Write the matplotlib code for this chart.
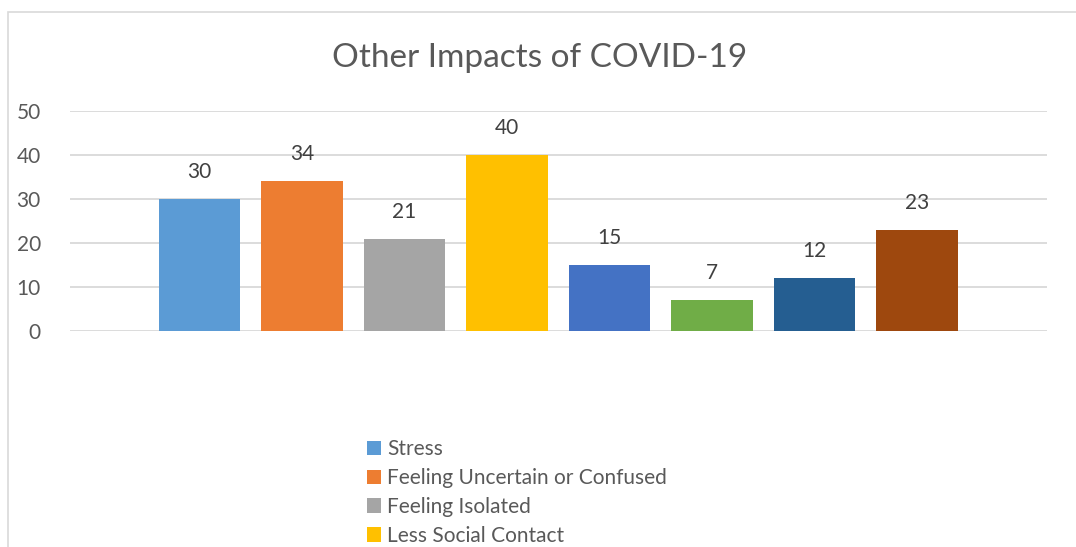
import matplotlib.pyplot as plt
from matplotlib.patches import Rectangle

# values
series_labels = ["Stress", "Feeling Uncertain or Confused", "Feeling Isolated", "Less Social Contact"]
values = [30, 34, 21, 40, 15, 7, 12, 23]
colors = ["#5B9BD5", "#ED7D31", "#A5A5A5", "#FFC000",
          "#4472C4", "#70AD47", "#255E91", "#9E480E"]
y_ticks = [0, 10, 20, 30, 40, 50]

text_color = "#595959"
grid_color = "#D9D9D9"
plt.rcParams['font.family'] = ['Lato', 'DejaVu Sans']

fig = plt.figure(figsize=(10.76, 5.47), dpi=100)

# chart area border (runs past the right and bottom edge of the crop)
fig.patches.append(Rectangle((8 / 1076, -0.2), 1.2, 1.2 - 12 / 547,
                             transform=fig.transFigure, fill=False,
                             edgecolor=grid_color, linewidth=1.2))

ax = fig.add_axes([70 / 1076, 1 - 331 / 547, 977 / 1076, 220 / 547])

positions = list(range(len(values)))
bars = ax.bar(positions, values, width=0.795, color=colors, zorder=3)

for rect, v in zip(bars, values):
    ax.annotate(str(v), (rect.get_x() + rect.get_width() / 2, v),
                xytext=(0, 27), textcoords='offset pixels',
                ha='center', va='center', fontsize=15, color="#404040")

ax.set_xlim(-1.265, 8.27)
ax.set_ylim(0, 50)
ax.set_yticks(y_ticks)
ax.set_xticks([])
ax.grid(axis='y', color=grid_color, linewidth=1.3, zorder=0)
ax.tick_params(axis='y', length=0, pad=21, labelsize=15, labelcolor=text_color)
for s in ax.spines.values():
    s.set_visible(False)

fig.text(540 / 1076, 1 - 58 / 547, "Other Impacts of COVID-19",
         ha='center', va='center', fontsize=24, color=text_color)

handles = bars[:len(series_labels)]
fig.legend(handles, series_labels, loc='upper left',
           bbox_to_anchor=(367 / 1076, 1 - 439 / 547),
           frameon=False, fontsize=15, labelcolor=text_color,
           handlelength=0.68, handleheight=0.68, handletextpad=0.3,
           labelspacing=0.43, borderpad=0, borderaxespad=0)

fig.savefig("out.png", dpi=100)
